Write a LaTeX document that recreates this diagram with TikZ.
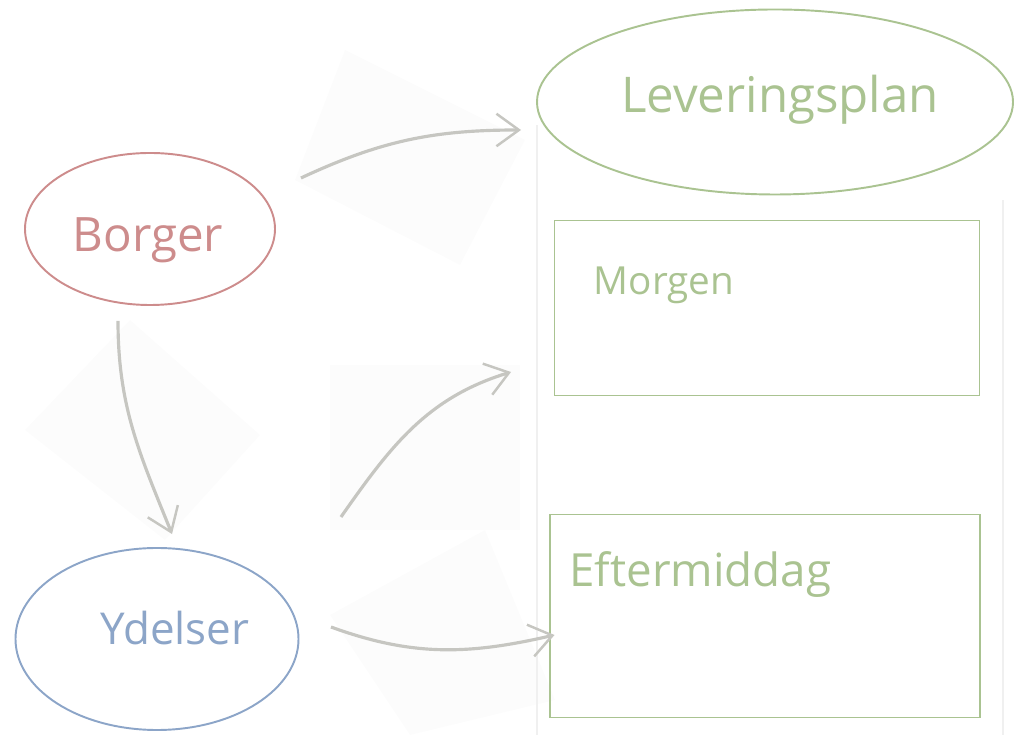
\documentclass[tikz,border=0pt]{standalone}
\usepackage{fontspec}
\setmainfont{Open Sans}
\usetikzlibrary{shapes.geometric,arrows.meta}
\definecolor{borgerred}{RGB}{205,140,140}
\definecolor{ydelseblue}{RGB}{140,165,200}
\definecolor{plangreen}{RGB}{170,195,145}
\definecolor{flowgray}{RGB}{198,198,193}
\tikzset{
    blob/.style={draw,ellipse,line width=1.1pt,inner sep=0pt},
    slot/.style={draw=plangreen,rectangle,line width=1.1pt,inner sep=0pt},
    word/.style={inner sep=0pt},
    flow/.style={draw=flowgray,line width=1.8pt,-{Straight Barb[length=0.45cm,width=0.65cm,line width=1.4pt]}},
    paper/.style={fill=black!1.2,draw=none},
}

\begin{document}
\begin{tikzpicture}
\useasboundingbox (0,0) rectangle (20.42,14.7);
% faint pasted patches
\fill[paper] (6.9,13.7) -- (10.5,11.9) -- (9.2,9.4) -- (5.9,11.1) -- cycle;
\fill[paper] (0.5,6.1) -- (2.6,8.3) -- (5.2,6.0) -- (3.3,3.9) -- cycle;
\fill[paper] (6.6,7.4) rectangle (10.4,4.1);
\fill[paper] (9.7,4.1) -- (11.1,0.7) -- (8.2,0.0) -- (6.6,2.4) -- cycle;
\draw[black!6,line width=1pt] (10.74,12.2) -- (10.74,0);
\draw[black!6,line width=1pt] (20.06,10.7) -- (20.06,0);

\node[blob,draw=borgerred,minimum width=5cm,minimum height=3.04cm] (borger) at (3.0,10.12) {};
\node[blob,draw=ydelseblue,minimum width=5.66cm,minimum height=3.64cm] (ydelser) at (3.14,1.92) {};
\node[blob,draw=plangreen,minimum width=9.52cm,minimum height=3.7cm] (plan) at (15.5,12.66) {};
\node[word,text=borgerred,font=\fontsize{27}{30}\selectfont] (borgertxt) at ([shift={(-0.04,-0.22)}]borger.center) {Borger};
\node[word,text=ydelseblue,font=\fontsize{25}{29}\selectfont] (ydelsertxt) at ([shift={(0.36,0.22)}]ydelser.center) {Ydelser};
\node[word,text=plangreen,font=\fontsize{28}{32}\selectfont] (plantxt) at ([shift={(0.1,0.04)}]plan.center) {Leveringsplan};

\node[slot,minimum width=8.5cm,minimum height=3.5cm] (morgen) at (15.34,8.54) {};
\node[slot,minimum width=8.6cm,minimum height=4.06cm] (efter) at (15.3,2.38) {};
\node[word,anchor=north west,text=plangreen,font=\fontsize{22}{26}\selectfont] (morgentxt) at ([shift={(0.8,-0.95)}]morgen.north west) {Morgen};
\node[word,anchor=north west,text=plangreen,font=\fontsize{26}{30}\selectfont] (eftertxt) at ([shift={(0.4,-0.75)}]efter.north west) {Eftermiddag};

\draw[flow] ([shift={(0.5,1.02)}]borger.east) to[out=25,in=180] ([shift={(-0.3,-0.56)}]plan.west);
\draw[flow] ([shift={(-0.64,-0.3)}]borger.south) to[out=-90,in=112] ([shift={(0.3,0.26)}]ydelser.north);
\draw[flow] ([shift={(0.83,2.44)}]ydelser.east) to[out=55,in=197] ([shift={(-0.85,-1.28)}]morgen.west);
\draw[flow] ([shift={(0.63,0.24)}]ydelser.east) to[out=-20,in=193] ([shift={(0.11,-0.38)}]efter.west);
\end{tikzpicture}
\end{document}
